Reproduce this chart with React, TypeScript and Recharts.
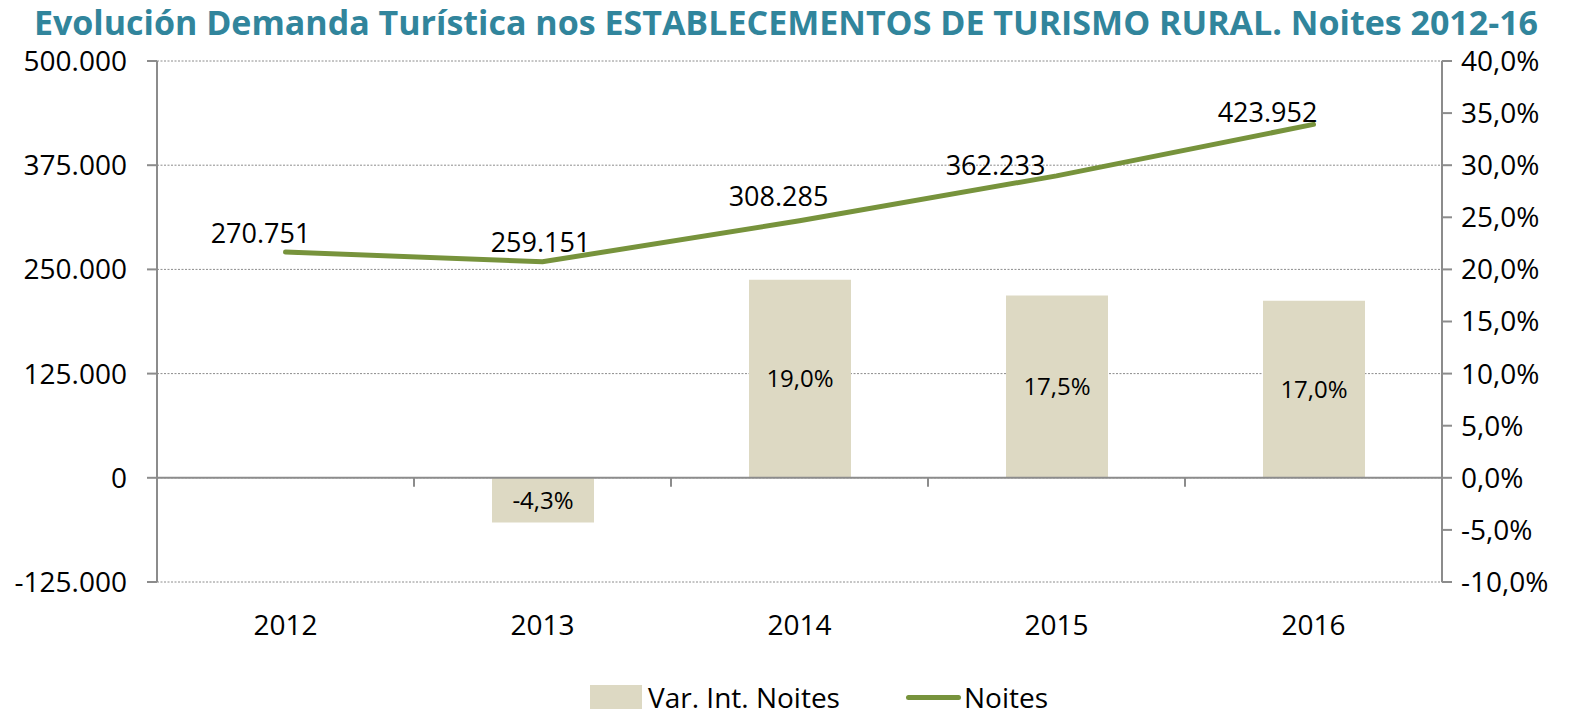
import {
  ComposedChart,
  Bar,
  Line,
  XAxis,
  YAxis,
  CartesianGrid,
  ReferenceLine,
  LabelList,
  Legend,
} from 'recharts';

const years = ['2012', '2013', '2014', '2015', '2016'];
const noites = [270751, 259151, 308285, 362233, 423952];
const varIntNoites: (number | null)[] = [null, -4.3, 19.0, 17.5, 17.0];
const leftTicks = [-125000, 0, 125000, 250000, 375000, 500000];
const rightTicks = [-10, -5, 0, 5, 10, 15, 20, 25, 30, 35, 40];

// label nudges for the Noites labels (dx, dy from the point)
const lineLabelShift = [
  [-25, -20],
  [-2, -20],
  [-21, -25],
  [-61, -11],
  [-46, -13],
];

const chartData = years.map((year, i) => ({
  year,
  noites: noites[i],
  varInt: varIntNoites[i],
}));

const AXIS = '#8c8c8c';
const BAR = '#DDD9C3';
const LINE = '#77933C';

const fmtThousands = (v: number) => {
  const s = Math.abs(v).toString().replace(/\B(?=(\d{3})+(?!\d))/g, '.');
  return (v < 0 ? '-' : '') + s;
};
const fmtPct = (v: number) => `${v.toFixed(1).replace('.', ',')}%`;

function ZeroAxis(props: any) {
  const { x1, y1, x2 } = props;
  const step = (x2 - x1) / years.length;
  const ticks = [];
  for (let i = 1; i < years.length; i++) {
    const x = x1 + step * i;
    ticks.push(<line key={i} x1={x} x2={x} y1={y1} y2={y1 + 9} stroke={AXIS} strokeWidth={2} />);
  }
  return (
    <g>
      <line x1={x1} x2={x2} y1={y1} y2={y1} stroke={AXIS} strokeWidth={2} />
      {ticks}
    </g>
  );
}

function NoitesLabel(props: any) {
  const { x, y, value, index } = props;
  const [dx, dy] = lineLabelShift[index] || [0, -20];
  return (
    <text x={x + dx} y={y + dy} textAnchor="middle" dominantBaseline="central" fontSize={27} fill="#000">
      {fmtThousands(value)}
    </text>
  );
}

function LegendContent(props: any) {
  const items = [...(props.payload || [])].sort((a: any, b: any) =>
    a.type === 'line' ? 1 : b.type === 'line' ? -1 : 0
  );
  return (
    <div style={{ display: 'flex', alignItems: 'center', fontSize: 28, color: '#000', lineHeight: '30px' }}>
      {items.map((p: any) => (
        <div key={p.value} style={{ display: 'flex', alignItems: 'center', marginRight: 66 }}>
          {p.type === 'line' ? (
            <span style={{ display: 'inline-block', width: 55, height: 5, borderRadius: 3, background: LINE, marginRight: 3 }} />
          ) : (
            <span style={{ display: 'inline-block', width: 52, height: 24, background: BAR, marginRight: 6 }} />
          )}
          <span>{p.value}</span>
        </div>
      ))}
    </div>
  );
}

export default function App() {
  return (
    <div
      style={{
        position: 'absolute',
        left: 0,
        top: 0,
        width: 1572,
        height: 715,
        background: '#fff',
        fontFamily: '"Open Sans", "Noto Sans", sans-serif',
        overflow: 'hidden',
      }}
    >
      <div
        style={{
          position: 'absolute',
          top: 5,
          left: 0,
          width: 1572,
          textAlign: 'center',
          fontSize: 34,
          lineHeight: '34px',
          fontWeight: 700,
          color: '#31859C',
          whiteSpace: 'nowrap',
        }}
      >
        Evolución Demanda Turística nos ESTABLECEMENTOS DE TURISMO RURAL. Noites 2012-16
      </div>
      <ComposedChart
        width={1572}
        height={715}
        data={chartData}
        margin={{ top: 61, right: 0, bottom: 103, left: 12 }}
      >
        <CartesianGrid
          yAxisId="left"
          vertical={false}
          stroke={AXIS}
          strokeDasharray="2 1.5"
        />
        <XAxis
          dataKey="year"
          axisLine={false}
          tickLine={false}
          tickSize={0}
          tickMargin={33}
          interval={0}
          tick={{ fontSize: 28, fill: '#000' }}
        />
        <YAxis
          yAxisId="left"
          orientation="left"
          width={145}
          domain={[-125000, 500000]}
          ticks={leftTicks}
          interval={0}
          tickFormatter={fmtThousands}
          tickSize={10}
          tickMargin={20}
          axisLine={{ stroke: AXIS, strokeWidth: 2 }}
          tickLine={{ stroke: AXIS, strokeWidth: 2 }}
          tick={{ fontSize: 28, fill: '#000' }}
        />
        <YAxis
          yAxisId="right"
          orientation="right"
          width={130}
          domain={[-10, 40]}
          ticks={rightTicks}
          interval={0}
          tickFormatter={fmtPct}
          tickSize={10}
          tickMargin={9}
          axisLine={{ stroke: AXIS, strokeWidth: 2 }}
          tickLine={{ stroke: AXIS, strokeWidth: 2 }}
          tick={{ fontSize: 28, fill: '#000' }}
        />
        <Bar
          yAxisId="right"
          dataKey="varInt"
          name="Var. Int. Noites"
          fill={BAR}
          barSize={102}
          isAnimationActive={false}
        >
          <LabelList
            dataKey="varInt"
            position="center"
            formatter={(v: any) => (v == null ? '' : fmtPct(v))}
            style={{ fontSize: 24, fill: '#000' }}
          />
        </Bar>
        <ReferenceLine yAxisId="left" y={0} shape={ZeroAxis} />
        <Line
          yAxisId="left"
          type="linear"
          dataKey="noites"
          name="Noites"
          stroke={LINE}
          strokeWidth={5}
          strokeLinecap="round"
          dot={false}
          activeDot={false}
          isAnimationActive={false}
        >
          <LabelList dataKey="noites" content={NoitesLabel} />
        </Line>
        <Legend
          layout="horizontal"
          verticalAlign="middle"
          align="center"
          content={LegendContent}
          wrapperStyle={{ top: 682, left: 590, width: 900, height: 30 }}
        />
      </ComposedChart>
    </div>
  );
}
